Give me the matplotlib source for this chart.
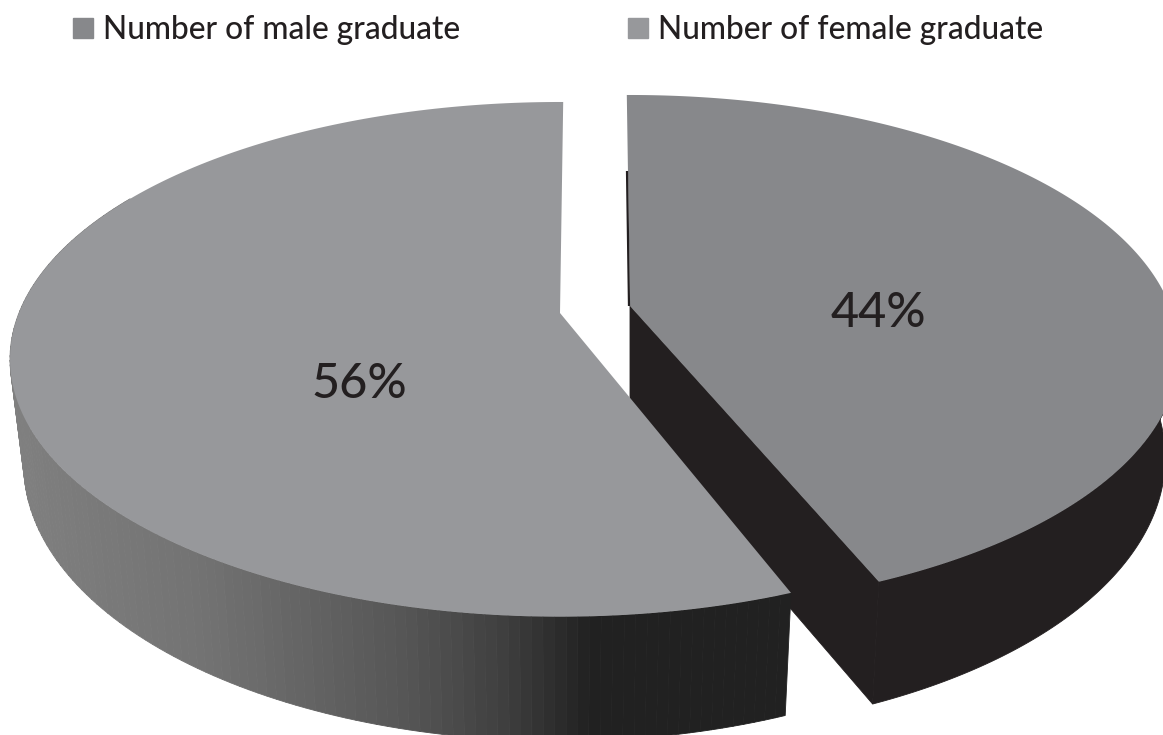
import numpy as np
import matplotlib
matplotlib.use("Agg")
import matplotlib.pyplot as plt
from matplotlib.patches import Polygon, Patch

labels = ["Number of male graduate", "Number of female graduate"]
shares = [44, 56]
pct_labels = ["44%", "56%"]

plt.rcParams["font.family"] = ["Lato", "DejaVu Sans"]

# look of the fake 3d pie, all in pixels
K = 0.18       # perspective
H = 249        # half height of the top face
D = 102        # thickness
TAPER = 0.025  # bottom ring is a bit narrower

TOP_MALE = "#87888b"
TOP_FEMALE = "#97989b"
BLACK = "#231f20"
GRAD_X = [20, 200, 400, 500, 590]
GRAD_V = [0.50, 0.45, 0.34, 0.25, 0.13]


def proj(theta, apex, r, z=0.0):
    t = np.radians(theta)
    u = np.sin(t)
    v = np.cos(t)
    d = 1 + K * v
    x = apex[0] + r * u / d * (1 - TAPER * z)
    y = apex[1] - H * v / d + z * D / d
    return np.column_stack([x, y])


def top_face(apex, r, a0, a1):
    th = np.linspace(a0, a1, 200)
    return np.vstack([[apex], proj(th, apex, r)])


def side_band(apex, r, a0, a1):
    th = np.linspace(a0, a1, 100)
    return np.vstack([proj(th, apex, r), proj(th[::-1], apex, r, 1.0)])


fig = plt.figure(figsize=(11.63, 7.35), dpi=100)
ax = fig.add_axes([0, 0, 1, 1])
ax.set_xlim(0, 1163)
ax.set_ylim(735, 0)
ax.axis("off")

split = 360 * shares[0] / sum(shares)

# right slice (male)
apex_r = (630, 306)
r_r = 540
end_r = split - 1.0
ax.add_patch(Polygon(side_band(apex_r, r_r, 88, end_r), color=BLACK, lw=0.6))
low = np.array([apex_r[0], apex_r[1] + 116])
face = np.vstack([[apex_r], proj(end_r, apex_r, r_r), proj(end_r, apex_r, r_r, 1.0), [low]])
ax.add_patch(Polygon(face, color=BLACK, lw=0.6))
# thin dark sliver on the inner edge
rim = proj(0, apex_r, r_r)[0]
ax.plot([apex_r[0] - 1, rim[0] - 3], [apex_r[1], apex_r[1] - 135], color=BLACK, lw=1.6, solid_capstyle="butt")
ax.add_patch(Polygon(top_face(apex_r, r_r, -0.4, end_r), color=TOP_MALE, lw=0))

# left slice (female), side has a banded gradient
apex_l = (560, 313)
r_l = 541
start_l = split + 0.8
edges = np.linspace(start_l, 300, 140)
for a0, a1 in zip(edges[:-1], edges[1:]):
    band = side_band(apex_l, r_l, a0, a1)
    g = np.interp(band[:, 0].mean(), GRAD_X, GRAD_V)
    ax.add_patch(Polygon(band, facecolor=(g, g, g), edgecolor=(g, g, g), lw=0.6))
ax.add_patch(Polygon(top_face(apex_l, r_l, start_l, 360.4), color=TOP_FEMALE, lw=0))

ax.text(878, 313, pct_labels[0], fontsize=35, fontweight="medium", color=BLACK, ha="center", va="center")
ax.text(359, 384, pct_labels[1], fontsize=35, fontweight="medium", color=BLACK, ha="center", va="center")

handles = [Patch(color=TOP_MALE), Patch(color=TOP_FEMALE)]
ax.legend(handles, labels, ncols=2, frameon=False, labelcolor=BLACK,
          loc="upper left", bbox_to_anchor=(0.0628, 0.979), handlelength=0.63, handleheight=0.6,
          handletextpad=0.32, columnspacing=5.3, borderpad=0, borderaxespad=0,
          prop={"size": 22.8, "weight": "medium"})

fig.savefig("out.png", dpi=100)
